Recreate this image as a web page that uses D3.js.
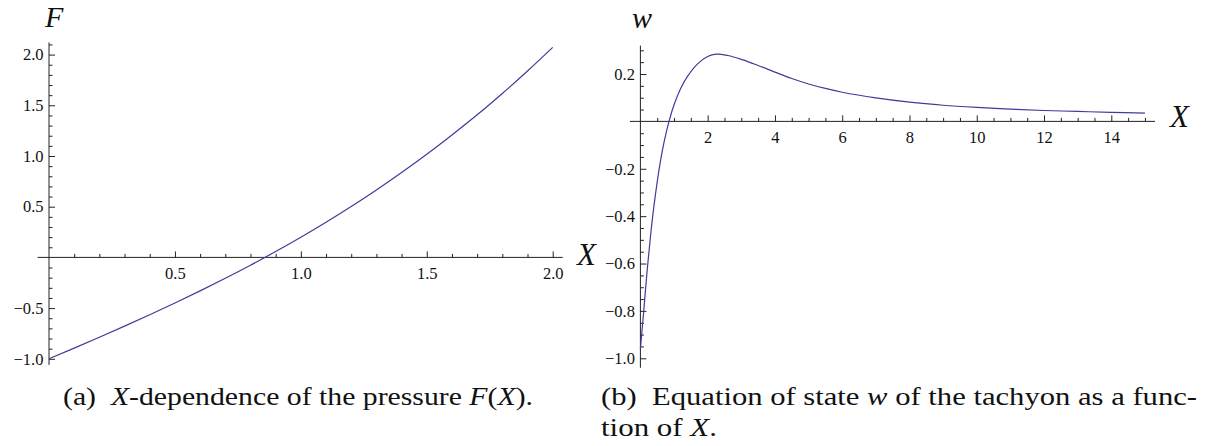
<!DOCTYPE html>
<html>
<head>
<meta charset="utf-8">
<script src="https://cdn.jsdelivr.net/npm/d3@7"></script>
<style>
  body { margin: 0; background: #fff; }
  svg { display: block; }
</style>
</head>
<body>
<div id="chart"></div>
<script>
// (a) pressure F(X)
var fX = [0, 0.1, 0.2, 0.3, 0.4, 0.5, 0.6, 0.7, 0.8, 0.9, 1.0, 1.1, 1.2, 1.3, 1.4, 1.5, 1.6, 1.7, 1.8, 1.9, 2.0];
var fY = [-1.0, -0.895, -0.788, -0.678, -0.566, -0.450, -0.330, -0.206, -0.077, 0.058, 0.199, 0.347, 0.502, 0.665, 0.837, 1.017, 1.207, 1.406, 1.617, 1.838, 2.071];

// (b) equation of state w(X)
var wX = [0, 0.05, 0.1, 0.2, 0.3, 0.4, 0.5, 0.6, 0.7, 0.85, 1.0, 1.2, 1.4, 1.7, 2.0, 2.25, 2.6, 3.0, 3.5, 4, 4.5, 5, 5.5, 6, 7, 8, 9, 10, 11, 12, 13, 14, 15];
var wY = [-0.96, -0.88, -0.80, -0.63, -0.485, -0.36, -0.255, -0.165, -0.09, 0, 0.07, 0.14, 0.19, 0.243, 0.274, 0.284, 0.278, 0.262, 0.236, 0.208, 0.181, 0.158, 0.139, 0.123, 0.099, 0.081, 0.068, 0.059, 0.052, 0.046, 0.042, 0.038, 0.035];

var leftXTicks = [0.5, 1.0, 1.5, 2.0];
var leftYTicks = [-1.0, -0.5, 0.5, 1.0, 1.5, 2.0];
var rightXTicks = [2, 4, 6, 8, 10, 12, 14];
var rightYTicks = [-1.0, -0.8, -0.6, -0.4, -0.2, 0.2];

var lineColor = "#3d3d99", axisColor = "#222";
var serif = "'Liberation Serif', 'Times New Roman', serif";

var svg = d3.select("#chart").append("svg")
    .attr("width", 1212)
    .attr("height", 446);

function near(v, arr) {
    return arr.some(function(a){ return Math.abs(a - v) < 1e-6; });
}

function panel(cfg) {
    var x = d3.scaleLinear().domain(cfg.xDom).range(cfg.xRange);
    var y = d3.scaleLinear().domain(cfg.yDom).range(cfg.yRange);
    var g = svg.append("g");

    // axis lines
    g.append("line")
        .attr("x1", x(cfg.xExt[0])).attr("x2", x(cfg.xExt[1]))
        .attr("y1", y(0)).attr("y2", y(0))
        .style("stroke", axisColor).style("stroke-width", 1);
    g.append("line")
        .attr("x1", x(0)).attr("x2", x(0))
        .attr("y1", y(cfg.yExt[0])).attr("y2", y(cfg.yExt[1]))
        .style("stroke", axisColor).style("stroke-width", 1);

    // minor ticks
    var xMinor = cfg.xMinor.filter(function(v){ return !near(v, cfg.xTicks) && v !== 0; });
    var yMinor = cfg.yMinor.filter(function(v){ return !near(v, cfg.yTicks) && Math.abs(v) > 1e-6; });

    g.append("g").attr("transform", "translate(0," + y(0) + ")")
        .call(d3.axisBottom(x).tickValues(xMinor).tickSize(-3.5).tickFormat(""));
    g.append("g").attr("transform", "translate(0," + y(0) + ")")
        .call(d3.axisBottom(x).tickValues(cfg.xTicks).tickSize(-6).tickPadding(9.6).tickFormat(cfg.xFmt));
    g.append("g").attr("transform", "translate(" + x(0) + ",0)")
        .call(d3.axisLeft(y).tickValues(yMinor).tickSize(-3.5).tickFormat(""));
    g.append("g").attr("transform", "translate(" + x(0) + ",0)")
        .call(d3.axisLeft(y).tickValues(cfg.yTicks).tickSize(-6).tickPadding(5.5).tickFormat(cfg.yFmt));

    g.selectAll(".domain").remove();
    g.selectAll(".tick line").style("stroke", axisColor);
    g.selectAll(".tick text")
        .style("font-family", serif)
        .style("font-size", "16.5px")
        .style("fill", "#111");

    // curve
    g.append("path")
        .datum(d3.zip(cfg.dx, cfg.dy))
        .attr("d", d3.line()
            .x(function(d){ return x(d[0]); })
            .y(function(d){ return y(d[1]); })
            .curve(cfg.curve))
        .style("fill", "none")
        .style("stroke", lineColor)
        .style("stroke-width", 1.2);

    // axis labels
    [[cfg.yLabel, cfg.yLabelPos, 30], ["X", cfg.xLabelPos, 31]].forEach(function(l){
        g.append("text")
            .attr("x", l[1][0]).attr("y", l[1][1])
            .style("font-family", serif)
            .style("font-style", "italic")
            .style("font-size", l[2] + "px")
            .style("fill", "#111")
            .text(l[0]);
    });
}

panel({
    xDom: [0, 2], xRange: [49, 552.7],
    yDom: [-1, 2], yRange: [358.8, 54.6],
    xExt: [-0.045, 2.04], yExt: [-1.06, 2.12],
    xTicks: leftXTicks, yTicks: leftYTicks,
    xMinor: d3.range(1, 21).map(function(i){ return i / 10; }),
    yMinor: d3.range(-10, 22).map(function(i){ return i / 10; }),
    xFmt: d3.format(".1f"), yFmt: d3.format(".1f"),
    dx: fX, dy: fY, curve: d3.curveNatural,
    yLabel: "F", yLabelPos: [45, 27],
    xLabelPos: [577, 265]
});

panel({
    xDom: [0, 14], xRange: [640.4, 1111.3],
    yDom: [-1, 0.2], yRange: [358.3, 74],
    xExt: [-0.31, 15.3], yExt: [-1.04, 0.32],
    xTicks: rightXTicks, yTicks: rightYTicks,
    xMinor: d3.range(1, 31).map(function(i){ return i / 2; }),
    yMinor: d3.range(-20, 7).map(function(i){ return i / 20; }),
    xFmt: d3.format("d"), yFmt: d3.format(".1f"),
    dx: wX, dy: wY, curve: d3.curveCatmullRom.alpha(0.5),
    yLabel: "w", yLabelPos: [632, 28],
    xLabelPos: [1170, 127]
});

// captions
function caption(x0, y0, width, parts) {
    var t = svg.append("text")
        .attr("x", x0).attr("y", y0)
        .attr("textLength", width)
        .attr("lengthAdjust", "spacingAndGlyphs")
        .style("font-family", serif)
        .style("font-size", "25px")
        .style("fill", "#111");
    parts.forEach(function(p){
        t.append("tspan")
            .style("font-style", p[1] ? "italic" : "normal")
            .text(p[0]);
    });
}

caption(63, 405, 470, [["(a)\u2002", 0], ["X", 1], ["-dependence of the pressure ", 0], ["F", 1], ["(", 0], ["X", 1], [").", 0]]);
caption(601, 405, 596, [["(b)\u2002Equation of state ", 0], ["w", 1], [" of the tachyon as a func-", 0]]);
caption(601, 436, 116, [["tion of ", 0], ["X", 1], [".", 0]]);
</script>
</body>
</html>
